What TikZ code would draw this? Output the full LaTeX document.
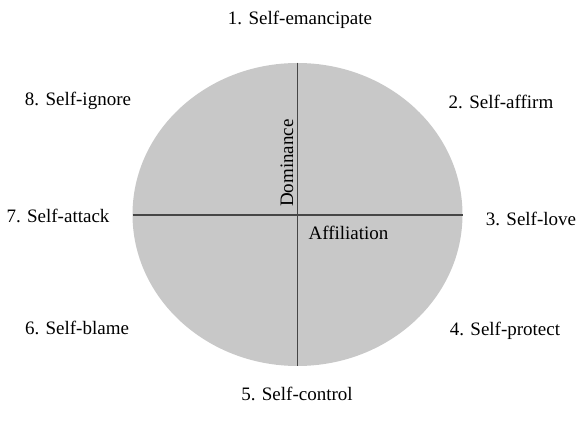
\documentclass[tikz,border=0pt]{standalone}
\usepackage{fontspec}
\setmainfont{Liberation Serif}
\definecolor{discgray}{RGB}{200,200,200}
\definecolor{axisgray}{RGB}{70,70,70}
\tikzset{
  lbl/.style={font=\fontsize{19}{21}\selectfont, inner sep=0pt},
  axis/.style={draw=axisgray, line width=1.3pt}
}
\begin{document}
\begin{tikzpicture}[x=1pt, y=-1pt]
          \useasboundingbox (0,0) rectangle (576,430);
          \fill[discgray] (297.5,214.5) ellipse [x radius=165, y radius=151.5];
          \coordinate (top) at (297.5,63);
          \coordinate (bottom) at (297.5,366);
          \coordinate (left) at (132.5,215);
          \coordinate (right) at (462.5,215);
          \draw[axis] (top) -- (bottom);
          \draw[axis] (left) -- (right);
          \node[lbl, rotate=90] (dom) at (287,163) {Dominance};
          \node[lbl] (aff) at (348.5,233) {Affiliation};
          \node[lbl] (s1) at (300,20) {1. Self-emancipate};
          \node[lbl] (s2) at (501,102) {2. Self-affirm};
          \node[lbl] (s3) at (531,219) {3. Self-love};
          \node[lbl] (s4) at (505,331) {4. Self-protect};
          \node[lbl] (s5) at (297,394) {5. Self-control};
          \node[lbl] (s6) at (77,328) {6. Self-blame};
          \node[lbl] (s7) at (58,216) {7. Self-attack};
          \node[lbl] (s8) at (78,101) {8. Self-ignore};
        \end{tikzpicture}
\end{document}
